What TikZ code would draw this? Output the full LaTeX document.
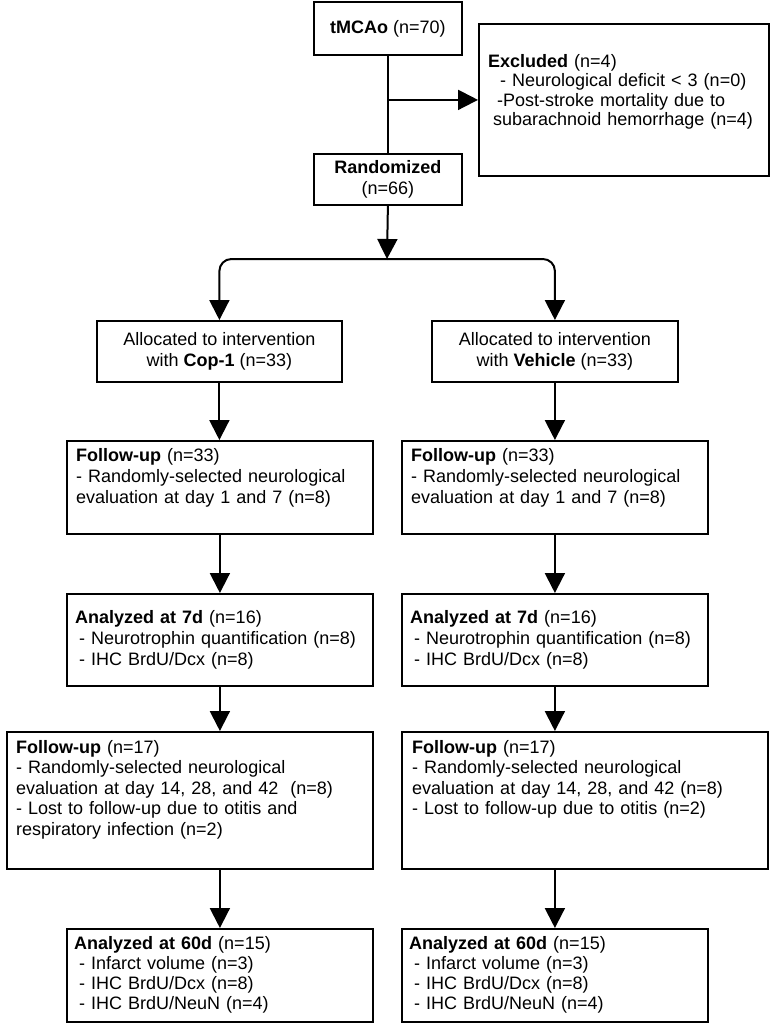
\documentclass[tikz,border=0pt]{standalone}
\usepackage{fontspec}
\setmainfont{Liberation Sans}
\usetikzlibrary{arrows.meta}
\begin{document}
\begin{tikzpicture}[x=1pt,y=-1pt,
  box/.style={draw, line width=1.8pt, inner sep=0pt, anchor=north west},
  ctext/.style={align=center, font=\fontsize{18}{20.5}\selectfont},
  ltext/.style={anchor=base west, inner sep=0pt, text width=350pt, align=left, font=\fontsize{18}{21}\selectfont},
  extext/.style={ltext, font=\fontsize{18}{19.3}\selectfont},
  conn/.style={line width=2pt},
  arr/.style={conn, -{Triangle[width=20pt,length=20pt]}}]
\useasboundingbox (0,0) rectangle (772,1028);
\fill[white] (0,0) rectangle (772,1028);

% top
\node[box, minimum width=148pt, minimum height=53pt, ctext] (tm) at (313,1) {\textbf{tMCAo} (n=70)};
\node[box, minimum width=290pt, minimum height=152pt] (ex) at (478,23) {};
\node[extext] (ext) at (488,67.5) {\textbf{Excluded} (n=4)\\
\hspace*{12pt}- Neurological deficit < 3 (n=0)\\
\hspace*{9pt}-Post-stroke mortality due to\\
\hspace*{5pt}subarachnoid hemorrhage (n=4)};
\node[box, minimum width=148pt, minimum height=51pt, ctext] (rand) at (313,153) {\textbf{Randomized}\\(n=66)};

% allocation
\node[box, minimum width=245pt, minimum height=61pt, ctext] (alL) at (96,320) {Allocated to intervention\\with \textbf{Cop-1} (n=33)};
\node[box, minimum width=246pt, minimum height=61pt, ctext] (alR) at (431,320) {Allocated to intervention\\with \textbf{Vehicle} (n=33)};

% follow-up 1
\node[box, minimum width=306pt, minimum height=93pt] (fuL) at (66,440) {};
\node[ltext] (fuLt) at (76,461) {\textbf{Follow-up} (n=33)\\- Randomly-selected neurological\\evaluation at day 1 and 7 (n=8)};
\node[box, minimum width=306pt, minimum height=93pt] (fuR) at (401,440) {};
\node[ltext] (fuRt) at (411,461) {\textbf{Follow-up} (n=33)\\- Randomly-selected neurological\\evaluation at day 1 and 7 (n=8)};

% analyzed 7d
\node[box, minimum width=306pt, minimum height=92pt] (a7L) at (66,593) {};
\node[ltext] (a7Lt) at (75,623) {\textbf{Analyzed at 7d} (n=16)\\\hspace*{4pt}- Neurotrophin quantification (n=8)\\\hspace*{4pt}- IHC BrdU/Dcx (n=8)};
\node[box, minimum width=306pt, minimum height=92pt] (a7R) at (401,593) {};
\node[ltext] (a7Rt) at (410,623) {\textbf{Analyzed at 7d} (n=16)\\\hspace*{4pt}- Neurotrophin quantification (n=8)\\\hspace*{4pt}- IHC BrdU/Dcx (n=8)};

% follow-up 2
\node[box, minimum width=366pt, minimum height=137pt] (f2L) at (6,731) {};
\node[ltext, font=\fontsize{18}{20.5}\selectfont] (f2Lt) at (16,753) {\textbf{Follow-up} (n=17)\\- Randomly-selected neurological\\evaluation at day 14, 28, and 42\ \ (n=8)\\- Lost to follow-up due to otitis and\\respiratory infection (n=2)};
\node[box, minimum width=366pt, minimum height=137pt] (f2R) at (401,731) {};
\node[ltext, font=\fontsize{18}{20.5}\selectfont] (f2Rt) at (412,753) {\textbf{Follow-up} (n=17)\\- Randomly-selected neurological\\evaluation at day 14, 28, and 42 (n=8)\\- Lost to follow-up due to otitis (n=2)};

% analyzed 60d
\node[box, minimum width=306pt, minimum height=93pt] (a60L) at (66,928) {};
\node[ltext, font=\fontsize{18}{20}\selectfont] (a60Lt) at (74,949.5) {\textbf{Analyzed at 60d} (n=15)\\\hspace*{5pt}- Infarct volume (n=3)\\\hspace*{5pt}- IHC BrdU/Dcx (n=8)\\\hspace*{5pt}- IHC BrdU/NeuN (n=4)};
\node[box, minimum width=306pt, minimum height=93pt] (a60R) at (401,928) {};
\node[ltext, font=\fontsize{18}{20}\selectfont] (a60Rt) at (409,949.5) {\textbf{Analyzed at 60d} (n=15)\\\hspace*{5pt}- Infarct volume (n=3)\\\hspace*{5pt}- IHC BrdU/Dcx (n=8)\\\hspace*{5pt}- IHC BrdU/NeuN (n=4)};

% connectors
\coordinate (br) at (tm.south |- ex.west);
\draw[conn] (tm.south) -- (rand.north);
\draw[arr] (br) -- (ex.west);
\coordinate (sp) at (387,259);
\draw[arr] (rand.south) -- (sp);
\draw[arr, rounded corners=12pt] (sp) -| (alL.north);
\draw[arr, rounded corners=12pt] (sp) -| (alR.north);

\draw[arr] (alL.south) -- (alL.south |- fuL.north);
\draw[arr] (alR.south) -- (alR.south |- fuR.north);
\draw[arr] (fuL.south) -- (a7L.north);
\draw[arr] (fuR.south) -- (a7R.north);
\draw[arr] (a7L.south) -- (a7L.south |- f2L.north);
\draw[arr] (a7R.south) -- (a7R.south |- f2R.north);
\draw[arr] (f2L.south -| a60L.north) -- (a60L.north);
\draw[arr] (f2R.south -| a60R.north) -- (a60R.north);
\end{tikzpicture}
\end{document}
